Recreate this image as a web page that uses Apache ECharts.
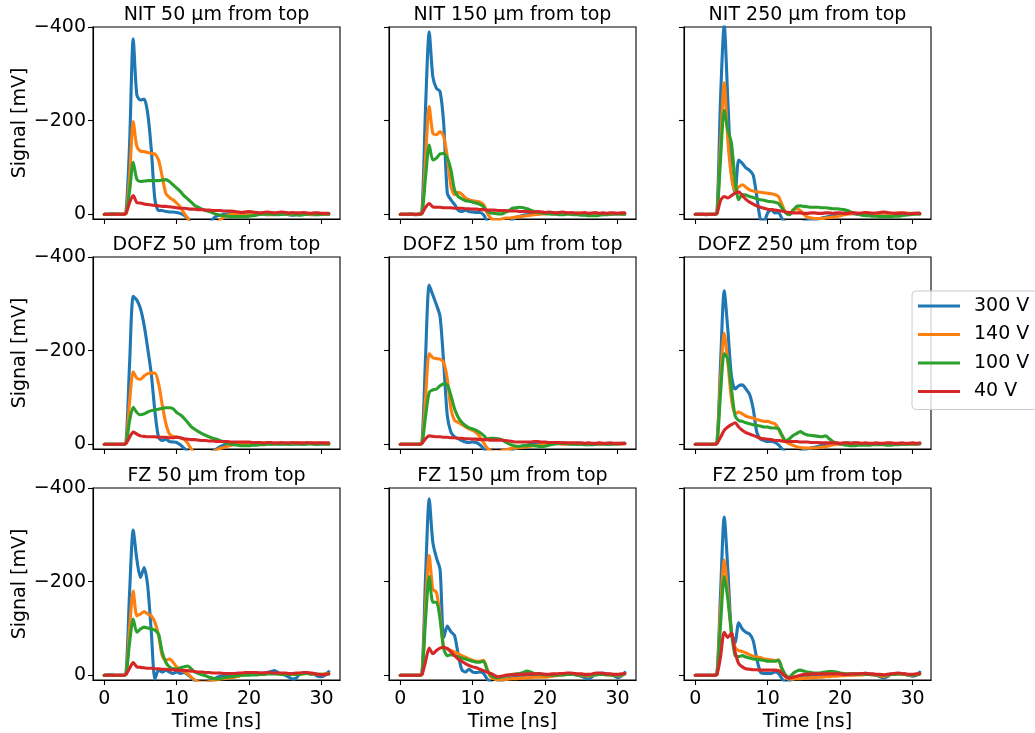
<!DOCTYPE html>
<html>
<head>
<meta charset="utf-8">
<script src="https://cdn.jsdelivr.net/npm/echarts@6/dist/echarts.min.js"></script>
<style>
  html, body { margin: 0; padding: 0; background: #fff; }
  #chart { width: 1035px; height: 733px; }
</style>
</head>
<body>
<div id="chart"></div>
<script>
// Bias voltages (legend entries) and their line colours
const voltages = ['300 V', '140 V', '100 V', '40 V'];
const colors = ['#1f77b4', '#ff7f0e', '#2ca02c', '#d62728'];

// Panel titles, row by row
const titles = [
  'NIT 50 µm from top', 'NIT 150 µm from top', 'NIT 250 µm from top',
  'DOFZ 50 µm from top', 'DOFZ 150 µm from top', 'DOFZ 250 µm from top',
  'FZ 50 µm from top', 'FZ 150 µm from top', 'FZ 250 µm from top'
];

const xTicks = [0, 10, 20, 30];
const yTicks = [-400, -200, 0];

// Sample times in ns: 0 … 31 in 0.5 ns steps
const time = [];
for (let i = 0; i <= 62; i++) time.push(i * 0.5);

// Signal in mV. Rows of each array: 0–2.5 ns, 3–7.5, 8–12.5, 13–17.5, 18–22.5, 23–27.5, 28–31
const nit50_300 = [0,0,-1,0,0,0,
  -5,-150,-375,-255,-244,-246,-216,-138,-31,-8,
  -8,-6,-5,-5,-4,-2,2,8,20,30,
  35,35,30,20,10,4,2,0,-1,-2,
  -2,-1,0,1,0,-1,-2,-1,0,1,
  0,-1,-2,-1,0,1,2,1,0,-1,
  -1,0,1,0,-1,0,0];
const nit50_140 = [0,0,0,0,-1,0,
  -2,-80,-198,-145,-135,-134,-132,-130,-129,-116,
  -81,-45,-36,-31,-24,-16,-3,8,20,30,
  35,35,32,28,22,18,12,6,2,0,
  -1,-1,0,1,1,0,-1,-2,-1,0,
  1,0,-1,-2,-1,0,1,0,-1,-1,
  0,1,0,-1,-1,0,-1];
const nit50_100 = [0,0,0,-1,0,0,
  -2,-50,-111,-75,-70,-71,-72,-72,-72,-72,
  -73,-74,-70,-63,-56,-49,-40,-33,-26,-19,
  -15,-11,-8,-6,-3,0,2,3,4,5,
  5,5,5,5,4,3,2,0,-1,-1,
  0,1,1,0,-1,-1,0,1,2,1,
  0,-1,0,1,0,-1,0];
const nit50_40 = [0,0,0,0,0,0,
  -2,-25,-40,-25,-24,-22,-21,-20,-19,-18,
  -17,-17,-16,-15,-14,-13,-13,-12,-11,-11,
  -10,-10,-9,-9,-8,-8,-8,-7,-7,-7,
  -6,-5,-4,-5,-6,-5,-4,-3,-4,-5,
  -4,-3,-4,-5,-4,-3,-4,-3,-3,-4,
  -3,-2,-3,-3,-2,-2,-2];

const nit150_300 = [0,0,0,0,1,0,
  -5,-230,-390,-294,-269,-262,-194,-45,-31,-21,
  -9,-6,-9,-6,-5,-4,-4,1,15,25,
  30,30,28,25,20,12,6,4,2,1,
  0,-1,-1,-2,-2,-2,-3,-2,-2,-3,
  -2,-1,-2,-1,0,-1,0,1,0,-1,
  0,1,0,-1,-1,-2,-1];
const nit150_140 = [0,0,0,0,0,0,
  -2,-120,-230,-173,-170,-177,-166,-123,-60,-42,
  -47,-43,-35,-31,-29,-28,-26,-21,-3,8,
  12,12,10,8,8,7,6,5,4,3,
  2,1,0,-1,-1,-2,-2,-1,-2,-3,
  -2,-1,-2,-3,-2,-1,-2,-1,0,-1,
  -2,-1,0,-1,-2,-1,-1];
const nit150_100 = [0,0,0,-1,0,0,
  -2,-80,-148,-116,-120,-129,-130,-120,-95,-52,
  -38,-33,-29,-28,-26,-24,-21,-16,-7,-3,
  -2,-1,-1,-4,-8,-13,-14,-15,-14,-12,
  -9,-6,-4,-3,-2,-1,0,0,1,1,
  0,0,1,1,2,2,3,3,3,2,
  1,0,0,-1,-1,0,0];
const nit150_40 = [0,0,0,0,0,0,
  -2,-15,-23,-16,-15,-15,-14,-14,-14,-13,
  -13,-13,-12,-12,-11,-11,-10,-10,-9,-9,
  -9,-8,-8,-8,-7,-7,-7,-6,-6,-6,
  -5,-5,-6,-5,-4,-5,-4,-3,-4,-5,
  -3,-4,-3,-2,-3,-4,-2,-3,-4,-2,
  -3,-2,-3,-3,-2,-3,-3];

const nit250_300 = [0,0,0,1,0,0,
  -3,-250,-405,-244,-87,-45,-116,-109,-99,-94,
  -84,-38,11,15,-3,-10,-3,-4,10,18,
  22,22,20,18,16,14,12,11,10,8,
  6,4,2,0,-1,-2,-2,-2,-1,0,
  -1,-2,-1,0,-1,-2,-3,-2,-1,0,
  -1,-2,-1,0,-1,-2,-2];
const nit250_140 = [0,0,0,0,0,0,
  -2,-150,-281,-158,-81,-50,-58,-63,-58,-52,
  -50,-48,-47,-46,-45,-44,-42,-38,-20,-3,
  0,-10,-12,-8,0,6,8,9,9,9,
  8,7,6,5,3,1,0,-1,-2,-2,
  -1,-2,-3,-2,-1,-2,-3,-2,-1,-2,
  -3,-2,-3,-2,-1,-2,-2];
const nit250_100 = [0,0,0,0,0,0,
  -2,-120,-222,-180,-152,-74,-31,-42,-41,-38,
  -36,-33,-31,-30,-28,-27,-26,-23,-13,-3,
  1,-8,-17,-18,-17,-16,-15,-15,-15,-14,
  -14,-13,-12,-12,-11,-10,-8,-5,-2,0,
  2,3,3,4,4,5,5,5,5,4,
  4,3,2,1,0,0,0];
const nit250_40 = [0,0,0,0,0,0,
  -2,-30,-38,-35,-40,-45,-48,-40,-32,-26,
  -22,-18,-15,-13,-11,-10,-9,-8,-7,-5,
  -4,-3,-3,-3,-2,-2,-3,-3,-2,-2,
  -3,-3,-2,-3,-3,-2,-2,-3,-3,-2,
  -3,-4,-3,-2,-3,-4,-5,-4,-3,-2,
  -2,-3,-2,-1,-2,-2,-2];

const dofz50_300 = [0,0,0,0,0,0,
  -3,-172,-316,-308,-290,-255,-205,-150,-70,-15,
  -8,-11,-6,-5,-4,1,8,15,22,26,
  28,27,25,20,15,10,5,2,0,-1,
  -1,-2,-2,-1,-1,-2,-1,0,-1,-2,
  -1,-1,0,-1,-2,-1,0,-1,-1,0,
  -1,-2,-1,0,-1,-1,-1];
const dofz50_140 = [0,0,0,0,0,0,
  -2,-90,-155,-141,-139,-146,-151,-152,-152,-130,
  -85,-45,-22,-17,-16,-14,-11,-3,10,18,
  22,24,22,20,16,12,9,7,4,2,
  0,-1,-1,-2,-2,-1,-1,-2,-2,-1,
  0,-1,-2,-2,-1,-1,-2,-3,-2,-1,
  -2,-2,-1,-2,-2,-1,-1];
const dofz50_100 = [0,0,0,0,0,0,
  -2,-50,-79,-68,-63,-65,-69,-72,-74,-75,
  -77,-78,-78,-76,-68,-63,-56,-47,-38,-32,
  -27,-23,-19,-16,-13,-11,-8,-5,-2,0,
  1,2,3,3,3,2,2,1,1,0,
  0,-1,-1,0,0,0,-1,-1,0,0,
  -1,-1,0,0,-1,-1,0];
const dofz50_40 = [0,0,0,0,0,0,
  -2,-15,-26,-22,-18,-17,-16,-16,-16,-15,
  -15,-15,-14,-14,-15,-14,-12,-11,-10,-10,
  -9,-8,-8,-7,-7,-6,-6,-6,-6,-5,
  -5,-5,-5,-5,-5,-4,-4,-4,-3,-4,
  -4,-3,-3,-4,-3,-3,-4,-3,-3,-3,
  -4,-3,-3,-3,-3,-3,-3];

const dofz150_300 = [0,0,0,0,0,0,
  -3,-188,-340,-319,-298,-273,-174,-61,-26,-16,
  -12,-8,-5,-4,-5,-4,1,9,18,25,
  28,28,26,22,18,12,8,5,3,2,
  0,-1,-1,-1,-1,-2,-2,-2,-2,-3,
  -2,-1,-1,0,0,-1,0,1,0,-1,
  -1,0,0,-1,-1,-1,-2];
const dofz150_140 = [0,0,0,0,0,0,
  -2,-100,-194,-185,-183,-182,-175,-139,-76,-51,
  -47,-42,-37,-33,-30,-25,-16,-4,8,14,
  16,16,14,12,10,8,8,7,6,5,
  4,3,2,1,0,-1,-1,-2,-1,0,
  -1,-2,-2,-1,0,-1,-2,-1,-1,0,
  -1,-2,-1,-1,-2,-1,-1];
const dofz150_100 = [0,0,0,0,0,0,
  -2,-60,-111,-116,-118,-125,-129,-127,-104,-76,
  -58,-47,-40,-35,-33,-30,-25,-19,-12,-13,
  -13,-12,-10,-5,-1,2,4,4,3,3,
  2,3,4,5,4,2,0,-1,-2,-2,
  -1,0,0,0,0,1,1,0,0,-1,
  -1,0,0,-1,-1,-2,-2];
const dofz150_40 = [0,0,0,0,0,0,
  -2,-12,-18,-17,-16,-16,-15,-15,-14,-14,
  -13,-13,-12,-12,-11,-11,-10,-10,-10,-9,
  -9,-9,-9,-8,-7,-6,-5,-5,-5,-5,
  -5,-6,-6,-5,-5,-4,-4,-4,-4,-3,
  -3,-3,-3,-3,-3,-2,-3,-2,-2,-3,
  -2,-2,-3,-2,-2,-2,-2];

const dofz250_300 = [0,0,0,0,0,0,
  -3,-175,-328,-245,-146,-118,-125,-127,-118,-107,
  -76,-26,-11,-8,-6,-6,-4,1,10,18,
  22,22,20,16,12,10,8,6,4,2,
  0,-1,-2,-2,-1,-2,-3,-2,-3,-2,
  0,0,1,0,-1,0,0,-1,0,0,
  -1,0,0,-1,-1,0,-1];
const dofz250_140 = [0,0,0,0,0,0,
  -2,-140,-237,-175,-97,-65,-69,-65,-60,-58,
  -56,-53,-51,-49,-49,-46,-44,-33,-16,-5,
  -1,2,5,7,8,8,8,8,7,6,
  5,3,1,0,0,-1,-1,0,-1,-2,
  -1,0,-1,-1,0,-1,-2,-1,0,-1,
  -1,0,-1,-1,0,-1,-1];
const dofz250_100 = [0,0,0,0,0,0,
  -2,-110,-194,-182,-118,-61,-51,-49,-46,-44,
  -42,-40,-39,-37,-37,-35,-35,-33,-19,-8,
  -12,-19,-23,-27,-23,-20,-19,-18,-17,-16,
  -18,-12,-6,-3,-1,1,2,3,3,2,
  2,2,2,1,1,1,1,2,2,1,
  1,0,0,-1,-1,-1,-2];
const dofz250_40 = [0,0,0,0,0,0,
  -2,-15,-30,-37,-42,-46,-37,-30,-25,-22,
  -19,-16,-13,-12,-11,-10,-8,-8,-7,-6,
  -6,-6,-6,-5,-5,-5,-4,-4,-4,-3,
  -3,-3,-3,-3,-2,-3,-3,-2,-3,-3,
  -2,-3,-2,-2,-3,-2,-2,-3,-3,-2,
  -2,-3,-2,-2,-3,-2,-3];

const fz50_300 = [0,-1,-1,0,0,0,
  -3,-177,-310,-248,-209,-230,-191,-92,8,-11,
  -7,-11,-7,-4,-7,-4,-6,-2,5,12,
  18,20,18,14,10,5,2,0,-2,-2,
  -3,-3,-4,-3,-3,-4,-4,-5,-5,-6,
  -8,-10,-6,-2,0,4,8,6,-3,-4,
  -5,-3,-2,2,3,0,-8];
const fz50_140 = [0,0,0,0,0,0,
  -2,-100,-180,-127,-131,-136,-131,-127,-113,-85,
  -42,-32,-35,-28,-18,-11,-8,-4,4,10,
  14,15,15,14,12,10,8,7,6,5,
  4,2,0,-1,-2,-2,-3,-3,-3,-4,
  -4,-4,-3,-2,-2,-2,-2,-3,-3,-4,
  -4,-3,-3,-2,-2,-3,-4];
const fz50_100 = [0,0,0,0,0,0,
  -2,-70,-120,-92,-99,-103,-101,-99,-96,-88,
  -50,-28,-18,-14,-14,-16,-18,-20,-14,-7,
  -4,-1,1,4,6,8,7,5,4,3,
  2,1,0,0,0,-1,-1,-2,-2,-3,
  -3,-3,-3,-2,-2,-2,-3,-2,-2,-3,
  -4,-3,-3,-2,-2,-2,-3];
const fz50_40 = [0,0,0,0,0,0,
  -2,-15,-27,-18,-17,-16,-15,-15,-14,-14,
  -13,-13,-12,-12,-11,-11,-10,-10,-9,-8,
  -7,-7,-6,-6,-5,-5,-5,-4,-4,-4,
  -4,-5,-5,-6,-6,-6,-6,-5,-5,-6,
  -6,-5,-5,-5,-5,-4,-4,-5,-5,-6,
  -6,-5,-4,-2,-1,-2,-3];

const fz150_300 = [0,0,0,0,0,0,
  -3,-213,-377,-284,-251,-226,-80,-105,-93,-85,
  -45,-12,-7,-13,-7,-6,-7,-4,8,15,
  18,16,12,9,7,5,4,3,2,1,
  0,-1,-2,-2,-2,0,1,0,-2,-3,
  -3,-3,-2,0,2,5,8,3,-3,-4,
  -5,-3,-2,1,5,2,-6];
const fz150_140 = [0,0,0,0,0,0,
  -2,-150,-256,-184,-177,-127,-60,-57,-53,-50,
  -46,-42,-39,-35,-32,-30,-30,-32,-14,4,
  8,10,10,9,8,7,7,6,6,5,
  5,4,4,4,4,3,2,1,0,-1,
  -2,-2,-2,-1,0,1,2,0,-2,-3,
  -3,-2,-1,0,1,0,-3];
const fz150_100 = [0,0,0,0,0,0,
  -2,-120,-211,-156,-156,-120,-57,-42,-44,-42,
  -39,-37,-35,-32,-30,-28,-28,-30,-11,0,
  4,5,4,2,0,-2,-3,-4,-6,-9,
  -7,-4,-3,-2,-1,-1,0,0,-1,-1,
  -2,-2,-2,-1,-1,0,0,-1,-1,-2,
  -2,-1,-1,0,0,-1,-3];
const fz150_40 = [0,0,0,0,0,0,
  -2,-30,-58,-46,-53,-58,-60,-57,-50,-42,
  -35,-30,-25,-21,-18,-16,-13,-10,-7,-4,
  0,3,2,0,-1,-1,-2,-2,-2,-3,
  -3,-3,-4,-3,-2,-2,-3,-3,-4,-4,
  -5,-5,-4,-3,-3,-2,-2,-3,-5,-5,
  -4,-3,-3,-2,-2,-3,-4];

const fz250_300 = [0,0,0,0,0,0,
  -3,-177,-338,-227,-92,-70,-112,-99,-92,-88,
  -74,-35,-7,-4,-4,-4,-7,-4,8,15,
  12,8,5,3,2,1,0,0,-1,-1,
  -2,-2,-2,-1,0,0,-1,-1,-2,-2,
  -3,-5,-3,-1,0,3,6,3,-2,-3,
  -4,-3,-2,0,2,0,-7];
const fz250_140 = [0,0,0,0,0,0,
  -2,-140,-246,-177,-92,-60,-53,-51,-48,-44,
  -41,-39,-38,-35,-34,-33,-31,-33,-7,4,
  8,8,7,7,6,6,5,5,4,4,
  3,3,2,2,1,1,0,0,0,-1,
  -1,-2,-2,-1,-1,1,3,0,-2,-3,
  -3,-2,-2,-1,0,-1,-3];
const fz250_100 = [0,0,0,0,0,0,
  -2,-110,-211,-163,-92,-42,-40,-42,-39,-37,
  -35,-34,-33,-32,-30,-30,-30,-32,-14,0,
  4,-4,-9,-11,-9,-7,-6,-5,-5,-6,
  -7,-8,-8,-7,-5,-4,-3,-3,-3,-3,
  -3,-2,-2,-2,-1,-1,0,-1,-2,-2,
  -3,-3,-2,-1,0,-1,-3];
const fz250_40 = [0,0,0,0,0,0,
  -2,-40,-92,-81,-90,-50,-25,-18,-14,-13,
  -12,-12,-11,-11,-11,-11,-11,-10,-4,3,
  6,4,2,0,-2,-2,-3,-3,-3,-3,
  -3,-3,-3,-3,-3,-2,-2,-3,-3,-3,
  -4,-4,-3,-3,-2,-2,-1,-2,-3,-4,
  -5,-4,-3,-2,-2,-3,-4];

const panels = [
  [nit50_300, nit50_140, nit50_100, nit50_40],
  [nit150_300, nit150_140, nit150_100, nit150_40],
  [nit250_300, nit250_140, nit250_100, nit250_40],
  [dofz50_300, dofz50_140, dofz50_100, dofz50_40],
  [dofz150_300, dofz150_140, dofz150_100, dofz150_40],
  [dofz250_300, dofz250_140, dofz250_100, dofz250_40],
  [fz50_300, fz50_140, fz50_100, fz50_40],
  [fz150_300, fz150_140, fz150_100, fz150_40],
  [fz250_300, fz250_140, fz250_100, fz250_40]
];

// Subplot layout (pixels)
const colLeft = [93, 389, 684];
const rowTop = [27, 257, 488];
const plotW = 247, plotH = 192;
const FONT = 'DejaVu Sans';
const FS = 19;

const grids = [], xAxes = [], yAxes = [], series = [], graphics = [];
panels.forEach((lines, k) => {
  const r = Math.floor(k / 3), c = k % 3;
  grids.push({
    left: colLeft[c], top: rowTop[r], width: plotW, height: plotH,
    show: true, borderColor: '#000', borderWidth: 1.1, backgroundColor: 'transparent'
  });
  xAxes.push({
    type: 'value', gridIndex: k, min: -1.55, max: 32.55, position: 'bottom',
    axisLine: { show: true, onZero: false, lineStyle: { color: '#000', width: 1.1 } },
    splitLine: { show: false },
    axisTick: { show: true, inside: false, length: 5, customValues: xTicks,
                lineStyle: { color: '#000', width: 1.1 } },
    axisLabel: { show: r === 2, customValues: xTicks, margin: 10,
                 fontFamily: FONT, fontSize: FS, color: '#000' },
    name: r === 2 ? 'Time [ns]' : '', nameLocation: 'middle', nameGap: 33,
    nameTextStyle: { fontFamily: FONT, fontSize: FS, color: '#000' }
  });
  yAxes.push({
    type: 'value', gridIndex: k, inverse: true, min: -400, max: 10, position: 'left',
    axisLine: { show: true, onZero: false, lineStyle: { color: '#000', width: 1.1 } },
    splitLine: { show: false },
    axisTick: { show: true, inside: false, length: 5, customValues: yTicks,
                lineStyle: { color: '#000', width: 1.1 } },
    axisLabel: { show: c === 0, customValues: yTicks, margin: 7,
                 fontFamily: FONT, fontSize: FS, color: '#000',
                 formatter: v => String(v).replace('-', '\u2212') },
    name: c === 0 ? 'Signal [mV]' : '', nameLocation: 'middle', nameGap: 58,
    nameRotate: 90,
    nameTextStyle: { fontFamily: FONT, fontSize: FS, color: '#000' }
  });
  lines.forEach((vals, v) => {
    series.push({
      type: 'line', name: voltages[v], xAxisIndex: k, yAxisIndex: k,
      data: time.map((t, i) => [t, vals[i]]),
      showSymbol: false, symbol: 'none', clip: true, smooth: 0.25,
      lineStyle: { width: 3.1, color: colors[v], cap: 'round', join: 'round' },
      itemStyle: { color: colors[v] },
      emphasis: { disabled: true }
    });
  });
  graphics.push({
    type: 'text', x: colLeft[c] + plotW / 2, y: rowTop[r] - 12,
    style: { text: titles[k], font: FS + 'px "' + FONT + '"', fill: '#000',
             textAlign: 'center', textVerticalAlign: 'middle' }
  });
});

const chart = echarts.init(document.getElementById('chart'), null, { renderer: 'canvas' });
chart.setOption({
  backgroundColor: '#fff',
  animation: false,
  color: colors,
  grid: grids,
  xAxis: xAxes,
  yAxis: yAxes,
  series: series,
  graphic: graphics,
  legend: {
    data: voltages, orient: 'vertical', left: 912, top: 291,
    icon: 'rect', itemWidth: 42, itemHeight: 3, itemGap: 8.5,
    padding: [5, 8, 8, 6],
    backgroundColor: 'rgba(255,255,255,0.8)', borderColor: '#cccccc',
    borderWidth: 1, borderRadius: 4,
    textStyle: { fontFamily: FONT, fontSize: FS, color: '#000', lineHeight: 20,
                 padding: [0, 0, 0, 9] },
    selectedMode: false
  }
});
</script>
</body>
</html>
